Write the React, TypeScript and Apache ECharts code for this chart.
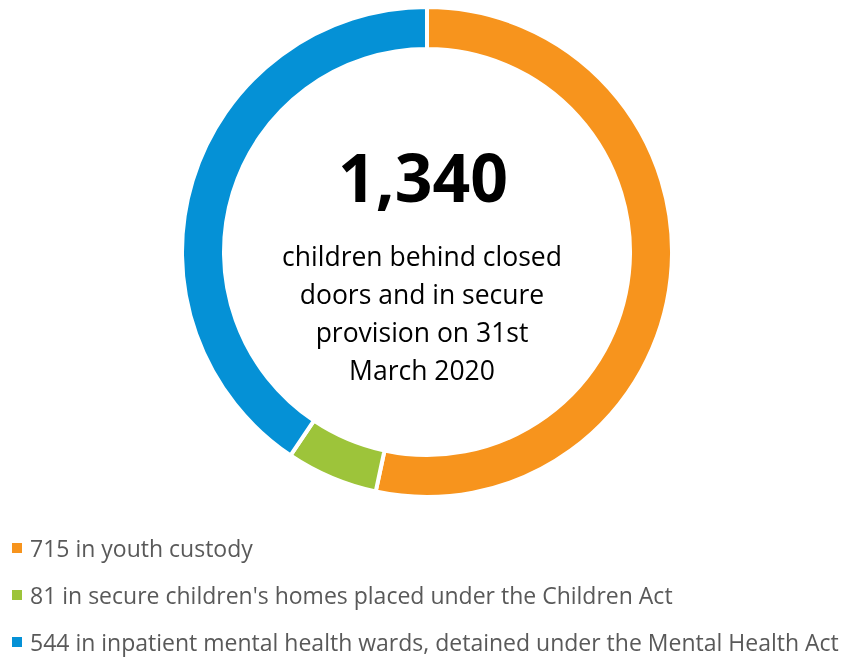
import React, { useEffect, useRef } from "react";
import * as echarts from "echarts";

const categories = [
  "in youth custody",
  "in secure children's homes placed under the Children Act",
  "in inpatient mental health wards, detained under the Mental Health Act",
];
const values = [715, 81, 544];
const colors = ["#F7941D", "#9DC43A", "#0591D6"];
const totalLabel = "1,340";
const subtitleLines = [
  "children behind closed",
  "doors and in secure",
  "provision on 31st",
  "March 2020",
];

export default function App() {
  const ref = useRef<HTMLDivElement>(null);
  useEffect(() => {
    if (!ref.current) return;
    const chart = echarts.init(ref.current, undefined, { renderer: "svg" });
    const names = categories.map((c, i) => `${values[i]} ${c}`);
    const legendItems: any[] = [];
    names.forEach((n, i) => {
      const cy = 548 + i * 47;
      legendItems.push({
        type: "rect",
        shape: { x: 12, y: cy - 5, width: 10, height: 10 },
        style: { fill: colors[i] },
      });
      legendItems.push({
        type: "text",
        x: 30,
        y: cy,
        style: {
          text: n,
          font: "23px 'Open Sans'",
          lineHeight: 22,
          fill: "#595959",
          verticalAlign: "middle",
          align: "left",
        },
      });
    });
    chart.setOption({
      animation: false,
      color: colors,
      graphic: [
        {
          type: "text",
          x: 423,
          y: 176,
          style: {
            text: totalLabel,
            font: "bold 66px 'Open Sans'",
            fill: "#000",
            align: "center",
            verticalAlign: "middle",
          },
        },
        ...subtitleLines.map((t, i) => ({
          type: "text",
          x: 422,
          y: 256 + i * 38,
          style: {
            text: t,
            font: "26.5px 'Open Sans'",
            fill: "#000",
            align: "center",
            verticalAlign: "middle",
          },
        })),
        ...legendItems,
      ],
      series: [
        {
          type: "pie",
          center: [427, 252],
          radius: [203, 245],
          startAngle: 90,
          clockwise: true,
          label: { show: false },
          labelLine: { show: false },
          itemStyle: { borderColor: "#fff", borderWidth: 4 },
          emphasis: { disabled: true },
          data: values.map((v, i) => ({ value: v, name: names[i] })),
        },
      ],
    });
    return () => chart.dispose();
  }, []);
  return (
    <div
      ref={ref}
      style={{ width: 858, height: 658, position: "fixed", left: 0, top: 0 }}
    />
  );
}
